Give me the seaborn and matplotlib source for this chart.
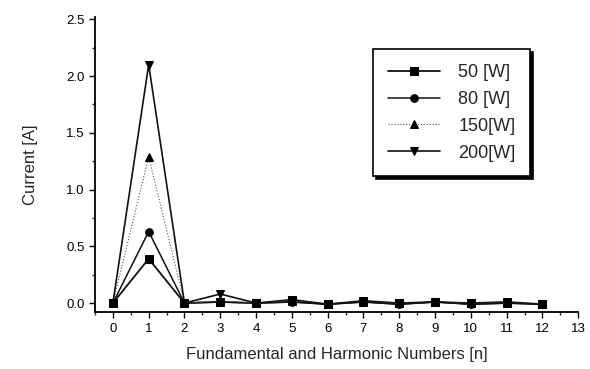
import matplotlib
matplotlib.use("Agg")
import matplotlib.pyplot as plt
import seaborn as sns
import pandas as pd
from matplotlib.ticker import MultipleLocator

sns.set_style("ticks")
plt.rcParams['font.family'] = ['Liberation Sans', 'DejaVu Sans']

n = [0, 1, 2, 3, 4, 5, 6, 7, 8, 9, 10, 11, 12]
w50 = [0.0, 0.39, 0.0, 0.01, 0.0, 0.03, -0.01, 0.02, 0.0, 0.01, 0.0, 0.01, -0.01]
w80 = [0.0, 0.63, 0.0, 0.01, 0.0, 0.01, -0.01, 0.01, -0.01, 0.01, -0.01, 0.0, -0.01]
w150 = [0.0, 1.29, 0.0, 0.02, 0.0, 0.02, -0.01, 0.01, 0.0, 0.01, 0.0, 0.0, -0.01]
w200 = [0.0, 2.10, 0.0, 0.08, 0.0, 0.01, -0.01, 0.01, -0.01, 0.01, -0.01, 0.0, -0.01]
labels = ["50 [W]", "80 [W]", "150[W]", "200[W]"]

series = [w50, w80, w150, w200]
markers = ["s", "o", "^", "v"]
styles = ["-", "-", ":", "-"]
widths = [1.3, 1.1, 0.8, 1.2]
colors = ["#111111", "#111111", "#555555", "#111111"]

fig = plt.figure(figsize=(5.9, 3.69), dpi=100)
ax = fig.add_axes([0.161, 0.154, 0.819, 0.8])

for vals, lab, m, ls, lw, c in zip(series, labels, markers, styles, widths, colors):
    df = pd.DataFrame({"n": n, "I": vals})
    sns.lineplot(data=df, x="n", y="I", ax=ax, marker=m, linestyle=ls, linewidth=lw,
                 color=c, markersize=5.5, markeredgecolor="black", markerfacecolor="black",
                 label=lab)

ax.set_xlim(-0.5, 13)
ax.set_ylim(-0.08, 2.52)
ax.xaxis.set_major_locator(MultipleLocator(1))
ax.xaxis.set_minor_locator(MultipleLocator(0.5))
ax.yaxis.set_major_locator(MultipleLocator(0.5))
ax.yaxis.set_minor_locator(MultipleLocator(0.25))
ax.set_yticks([0, 0.5, 1.0, 1.5, 2.0, 2.5])
ax.set_yticklabels(["0.0", "0.5", "1.0", "1.5", "2.0", "2.5"])
ax.tick_params(axis="both", which="major", direction="out", length=4, width=1, labelsize=9.5, colors="black")
ax.tick_params(axis="both", which="minor", direction="out", length=2.5, width=1)
sns.despine(ax=ax)
for s in ["left", "bottom"]:
    ax.spines[s].set_linewidth(1.3)
    ax.spines[s].set_color("black")

ax.set_xlabel("Fundamental and Harmonic Numbers [n]", fontsize=12, labelpad=9)
ax.set_ylabel("Current [A]", fontsize=12, labelpad=20)

leg = ax.legend(loc="upper right", bbox_to_anchor=(0.90, 0.89), fontsize=13, frameon=True,
                fancybox=False, shadow={"color": "black", "alpha": 1}, edgecolor="black",
                handlelength=2.9, labelspacing=0.55, borderpad=0.8, handletextpad=1.0,
                borderaxespad=0)
leg.get_frame().set_linewidth(1.2)

fig.savefig("out.png", dpi=100)
